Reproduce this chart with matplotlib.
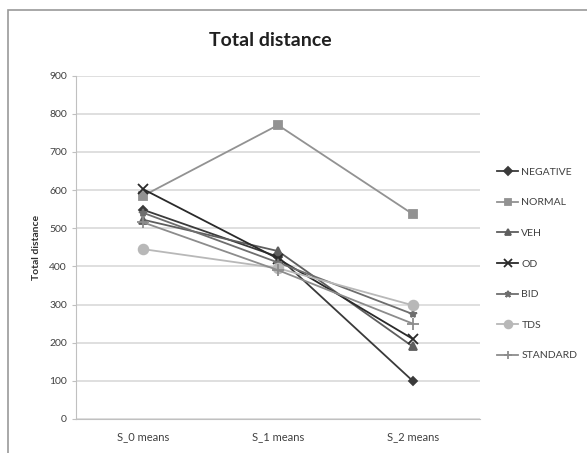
import matplotlib
matplotlib.use("Agg")
import matplotlib.pyplot as plt
from matplotlib.patches import Rectangle

plt.rcParams['font.family'] = ['Lato', 'DejaVu Sans']

categories = ['S_0 means', 'S_1 means', 'S_2 means']
series_names = ['NEGATIVE', 'NORMAL', 'VEH', 'OD', 'BID', 'TDS', 'STANDARD']
negative = [548, 425, 100]
normal = [585, 770, 537]
veh = [522, 440, 190]
od = [602, 420, 210]
bid = [540, 410, 275]
tds = [445, 395, 298]
standard = [515, 390, 250]
values = [negative, normal, veh, od, bid, tds, standard]

colors = ['#3a3a3a', '#929292', '#5e5e5e', '#2a2a2a', '#6e6e6e', '#b8b8b8', '#8c8c8c']
markers = ['D', 's', '^', 'x', '*', 'o', '+']
msizes = [4.5, 6, 6, 7, 6, 7, 8]

fig = plt.figure(figsize=(5.87, 4.53), dpi=100)
fig.patches.append(Rectangle((8/587, -0.1), 1.1, 1 - 10/453 + 0.1, transform=fig.transFigure,
                             fill=False, edgecolor='#9a9a9a', linewidth=1.2))
ax = fig.add_axes([76/587, 34/453, 404/587, 343.5/453])

x = list(range(len(categories)))
for name, vals, c, m, ms in zip(series_names, values, colors, markers, msizes):
    ax.plot(x, vals, color=c, marker=m, markersize=ms, linewidth=1.3,
            markeredgecolor=c, markeredgewidth=1.3, label=name)

ax.set_xlim(-0.5, 2.5)
ax.set_ylim(0, 900)
ax.set_yticks(range(0, 901, 100))
ax.set_xticks(x)
ax.set_xticklabels(categories)
ax.yaxis.grid(True, color='#d9d9d9', linewidth=1.2)
ax.set_axisbelow(True)
for s in ['top', 'right']:
    ax.spines[s].set_visible(False)
for s in ['left', 'bottom']:
    ax.spines[s].set_color('#c0c0c0')
ax.tick_params(axis='both', colors='#c0c0c0', labelcolor='#404040', labelsize=7.5, length=3)
ax.tick_params(axis='x', length=0, pad=9, labelsize=8)
ax.set_ylabel('Total distance', fontsize=7.5, fontweight='bold', color='#303030', labelpad=6)
fig.text(270/587, 1 - 40/453, 'Total distance', ha='center', va='center',
         fontsize=14, fontweight='bold', color='#202020')

leg = ax.legend(loc='upper left', bbox_to_anchor=(1.02, 0.76), frameon=False,
                fontsize=7.5, labelspacing=2.05, handlelength=2.0, handletextpad=0.3,
                markerscale=0.8)
for t in leg.get_texts():
    t.set_color('#404040')

fig.savefig('out.png', dpi=100)
